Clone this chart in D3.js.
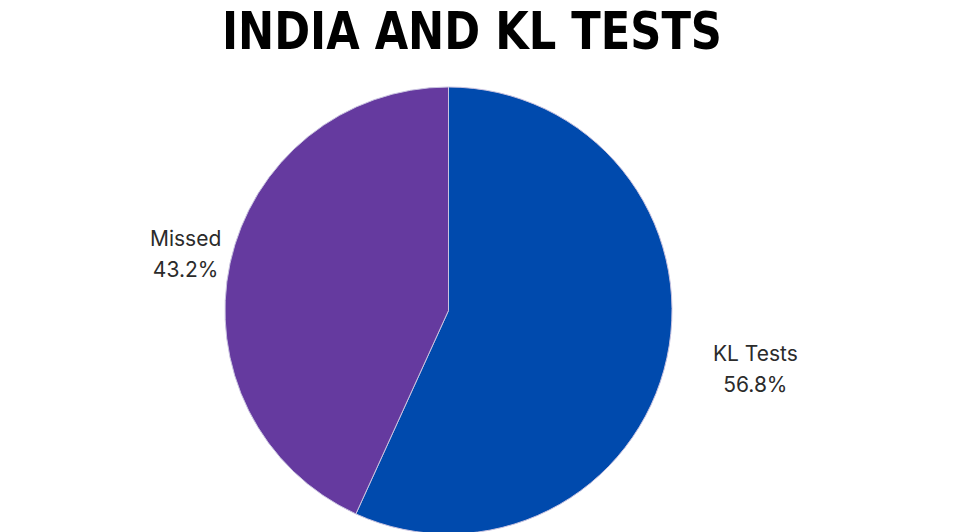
<!DOCTYPE html>
<html><head><meta charset="utf-8">
<script src="https://cdn.jsdelivr.net/npm/d3@7"></script>
<style>html,body{margin:0;padding:0;background:#fff;overflow:hidden}</style>
</head><body>
<svg id="chart" width="954" height="532"></svg>
<script>
const categories = ["KL Tests", "Missed"];
const values = [56.8, 43.2];
const valueLabels = ["56.8%", "43.2%"];
const title = "INDIA AND KL TESTS";

const colors = ["#004AAD", "#653A9F"];
const svg = d3.select("#chart");
const cx = 448.5, cy = 310.5, R = 223.5;
const labelR = [314, 269];
const labelDy = [-9, 0];

svg.append("text")
  .attr("x", 222).attr("y", 49)
  .attr("textLength", 500).attr("lengthAdjust", "spacingAndGlyphs")
  .attr("font-family", "DejaVu Sans Condensed, DejaVu Sans")
  .attr("font-weight", "bold")
  .attr("font-size", 52)
  .attr("fill", "#000")
  .text(title);

const pie = d3.pie().sort(null).value(d => d)(values);
const arc = d3.arc().innerRadius(0).outerRadius(R);
const g = svg.append("g").attr("transform", `translate(${cx},${cy})`);

g.selectAll("path").data(pie).join("path")
  .attr("d", arc)
  .attr("fill", (d, i) => colors[i])
  .attr("stroke", "#c9c3e0").attr("stroke-width", 1);

pie.forEach((d, i) => {
  const a = (d.startAngle + d.endAngle) / 2;
  const x = Math.sin(a) * labelR[i];
  const y = -Math.cos(a) * labelR[i] + labelDy[i];
  const t = g.append("text")
    .attr("text-anchor", "middle")
    .attr("font-family", "Inter, Open Sans, sans-serif")
    .attr("font-size", 21)
    .attr("fill", "#2b2b2b");
  t.append("tspan").attr("x", x).attr("y", y - 7).text(categories[i]);
  t.append("tspan").attr("x", x).attr("y", y + 24).text(valueLabels[i]);
});
</script>
</body></html>
